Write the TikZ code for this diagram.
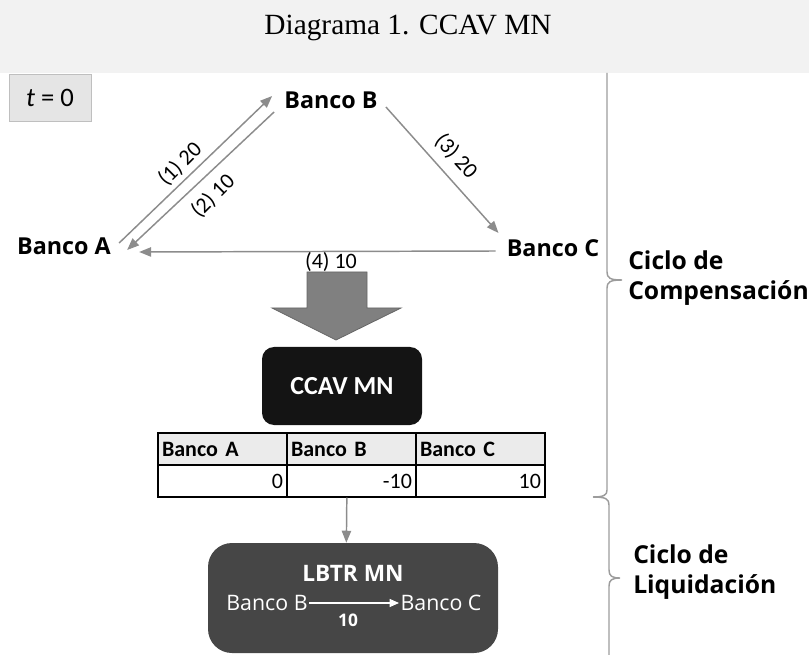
\documentclass[tikz,border=0pt]{standalone}
\usepackage{fontspec}
\setmainfont{Liberation Serif}
\newfontfamily\osans{Open Sans}
\newfontfamily\calib{Carlito}
\usetikzlibrary{arrows.meta}
\definecolor{flowgray}{HTML}{8C8C8C}
\definecolor{bracegray}{HTML}{9C9C9C}
\definecolor{headgray}{HTML}{EBEBEB}
\definecolor{lbtrgray}{HTML}{464646}
\definecolor{fatgray}{HTML}{808080}
\tikzset{
  bank/.style={font=\osans\bfseries\fontsize{17.5}{20}\selectfont, inner sep=0pt},
  flow/.style={draw=flowgray, line width=1.1pt, -{Triangle[length=9pt,width=7pt]}},
  amount/.style={font=\calib\fontsize{16.5}{18}\selectfont, inner sep=0pt},
  cell/.style={draw=black, line width=1pt, minimum height=24pt, inner sep=3pt, text width=90.75pt},
  headcell/.style={cell, fill=headgray, align=left, font=\calib\bfseries\fontsize{16.5}{18}\selectfont},
  valcell/.style={cell, fill=white, align=right, font=\calib\fontsize{16.5}{18}\selectfont},
  cycle/.style={font=\osans\bfseries\fontsize{18.5}{22.5}\selectfont, align=left, anchor=west, inner sep=0pt},
  brace/.style={draw=bracegray, line width=1.1pt}
}
\begin{document}
\begin{tikzpicture}[x=0.75pt,y=-0.75pt]
    \useasboundingbox (0,0) rectangle (809,655);
    \clip (0,0) rectangle (809,655);
    % Title band
    \fill[black!5] (0,0) rectangle (809,73);
    \node (title) at (408,28) {\fontsize{22}{26}\selectfont Diagrama 1. CCAV MN};

    % Time box
    \node[fill=black!10, draw=black!25, minimum width=61.5pt, minimum height=35pt,
          font=\calib\fontsize{20}{22}\selectfont] (time) at (50,98) {\itshape t\upshape{} = 0};

    % Banks
    \node[bank] (bankB) at (331,100) {Banco B};
    \node[bank] (bankA) at (64,246) {Banco A};
    \node[bank] (bankC) at (553,248) {Banco C};

    % Payments between banks
    \draw[flow] ([shift={(8,-3)}]bankA.east) -- ([shift={(-12,-4)}]bankB.west);
    \draw[flow] ([shift={(-10,12)}]bankB.west) -- ([shift={(16,4)}]bankA.east);
    \draw[flow] ([shift={(8,7)}]bankB.east) -- ([shift={(-8,-15)}]bankC.west);
    \draw[flow] ([shift={(-11,3)}]bankC.west) -- ([shift={(28,6)}]bankA.east);

    % Payment labels
    \node[amount, rotate=45] (p1) at (180,164) {(1) 20};
    \node[amount, rotate=45] (p2) at (213,196) {(2) 10};
    \node[amount, rotate=-48] (p3) at (456,156) {(3) 20};
    \node[amount] (p4) at (331,262) {(4) 10};

    % Big arrow into the clearing house
    \filldraw[fill=fatgray, draw=black!60, line width=0.6pt]
        (307,272) -- (367,272) -- (367,308) -- (401,308) -- (336,340)
        -- (272,308) -- (307,308) -- cycle;

    % Clearing house
    \node[fill=black!92, rounded corners=9pt, minimum width=120pt, minimum height=58.5pt,
          text=white, font=\calib\bfseries\fontsize{19.5}{22}\selectfont] (ccav) at (342,386) {CCAV MN};

    % Net positions table
    \node[headcell] (hA) at (222.5,449) {Banco A};
    \node[headcell] (hB) at (351.5,449) {Banco B};
    \node[headcell] (hC) at (480.5,449) {Banco C};
    \node[valcell] (vA) at (222.5,481) {0};
    \node[valcell] (vB) at (351.5,481) {-10};
    \node[valcell] (vC) at (480.5,481) {10};

    % Settlement system
    \node[fill=lbtrgray, rounded corners=18pt, minimum width=217.5pt, minimum height=82.5pt] (lbtr) at (353,598) {};
    \draw[flow] ([xshift=-3.5]vB.south) -- ([xshift=-5]lbtr.north);
    \node[text=white, font=\osans\bfseries\fontsize{17}{20}\selectfont, inner sep=0pt] (lbtrname) at (353,573) {LBTR MN};
    \node[text=white, font=\osans\fontsize{16}{18}\selectfont, inner sep=0pt] (lbB) at (267,603) {Banco B};
    \node[text=white, font=\osans\fontsize{16}{18}\selectfont, inner sep=0pt] (lbC) at (441,603) {Banco C};
    \draw[white, line width=0.8pt, -{Triangle[length=7pt,width=6pt]}] ([xshift=1pt]lbB.east) -- ([xshift=-1pt]lbC.west);
    \node[text=white, font=\osans\bfseries\fontsize{13}{15}\selectfont, inner sep=0pt] (lbamt) at (348,620) {10};

    % Cycle braces
    \draw[brace] (607,73) -- (607,272) .. controls (607,278) and (610,280) .. (622,280)
        .. controls (610,280) and (607,282) .. (607,288) -- (607,490)
        .. controls (607,495) and (604,497) .. (593,497);
    \draw[brace] (593,497) .. controls (606,497) and (609,499) .. (609,505) -- (609,570)
        .. controls (609,576) and (612,578) .. (620,578)
        .. controls (612,578) and (609,580) .. (609,586) -- (609,660);
    \node[cycle] (comp) at (628,278) {Ciclo de\\Compensación};
    \node[cycle] (liq) at (633,572) {Ciclo de\\Liquidación};
\end{tikzpicture}
\end{document}
